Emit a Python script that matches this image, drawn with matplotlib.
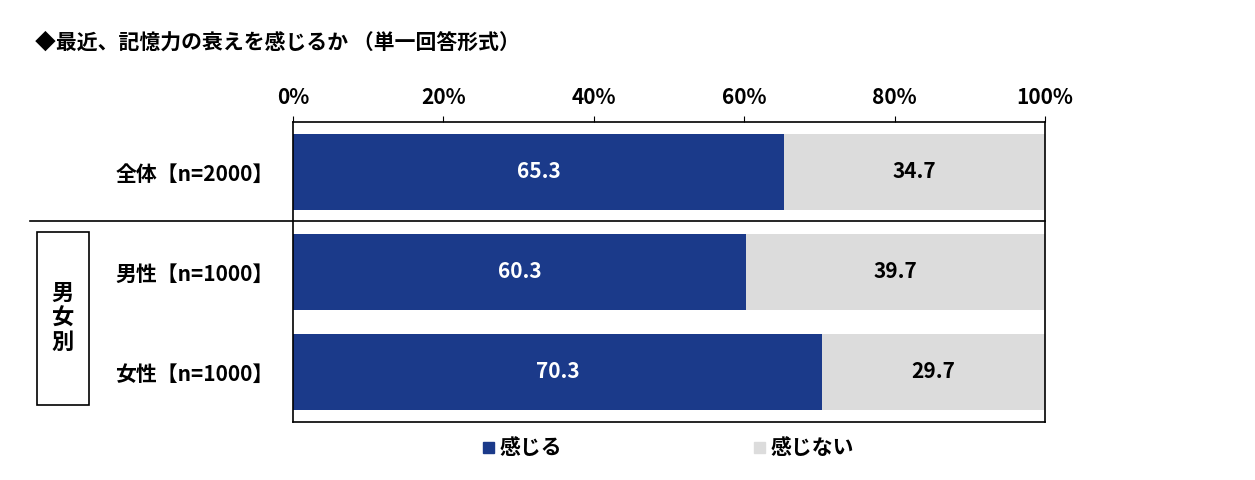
import matplotlib
matplotlib.use("Agg")
import matplotlib.pyplot as plt
from matplotlib.patches import Rectangle
from matplotlib.lines import Line2D

plt.rcParams["font.family"] = "Noto Sans CJK JP"
plt.rcParams["font.weight"] = "bold"

categories = ["全体【n=2000】", "男性【n=1000】", "女性【n=1000】"]
feel = [65.3, 60.3, 70.3]
not_feel = [34.7, 39.7, 29.7]
series_names = ["感じる", "感じない"]
ticks = [0, 20, 40, 60, 80, 100]

blue = "#1b3a8a"
gray = "#dcdcdc"

fig = plt.figure(figsize=(12.55, 4.8), dpi=100)
ax = fig.add_axes([293/1255, 58/480, 752/1255, 300/480])
y = list(range(len(categories)))
ax.barh(y, feel, height=0.76, color=blue)
ax.barh(y, not_feel, left=feel, height=0.76, color=gray)
for i in y:
    ax.text(feel[i]/2, i, f"{feel[i]:.1f}", color="white", ha="center", va="center", fontsize=15)
    ax.text(feel[i] + not_feel[i]/2, i, f"{not_feel[i]:.1f}", color="black", ha="center", va="center", fontsize=15)
ax.set_xlim(0, 100)
ax.set_ylim(2.5, -0.5)
ax.xaxis.tick_top()
ax.set_xticks(ticks)
ax.set_xticklabels([f"{t}%" for t in ticks], fontsize=15)
ax.tick_params(axis="x", length=4, pad=6)
ax.set_yticks(y)
ax.set_yticklabels(categories, fontsize=15)
ax.tick_params(axis="y", length=0, pad=14)
for s in ax.spines.values():
    s.set_linewidth(1.2)
ax.grid(False)

fig.add_artist(Line2D([30/1255, 1045/1255], [1-221/480, 1-221/480], color="black", lw=1.2))
fig.add_artist(Rectangle((37/1255, 1-405/480), 52/1255, 173/480, fill=False, lw=1.2, ec="black"))
fig.text(63/1255, 1-318/480, "男\n女\n別", ha="center", va="center", fontsize=16, linespacing=1.1)

fig.text(35/1255, 1-42/480, "◆最近、記憶力の衰えを感じるか （単一回答形式）", fontsize=15, va="center")

fig.add_artist(Rectangle((483/1255, 1-453/480), 11/1255, 11/480, color=blue))
fig.text(500/1255, 1-447/480, series_names[0], fontsize=15, va="center")
fig.add_artist(Rectangle((754/1255, 1-453/480), 11/1255, 11/480, color=gray))
fig.text(771/1255, 1-447/480, series_names[1], fontsize=15, va="center")

fig.savefig("out.png", dpi=100)
